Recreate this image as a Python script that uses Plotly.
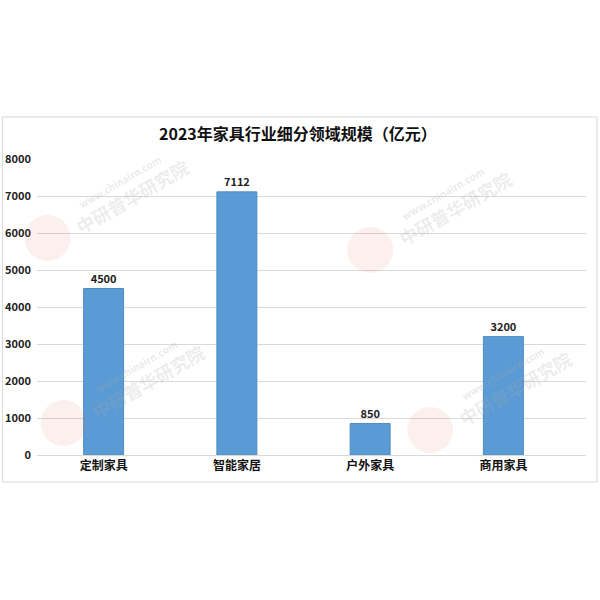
import plotly.graph_objects as go

categories = ["定制家具", "智能家居", "户外家具", "商用家具"]
values = [4500, 7112, 850, 3200]
y_ticks = [0, 1000, 2000, 3000, 4000, 5000, 6000, 7000, 8000]
title_text = "2023年家具行业细分领域规模（亿元）"

FONT = "Noto Sans CJK SC, Microsoft YaHei, sans-serif"

fig = go.Figure()
fig.add_trace(go.Bar(
    x=list(range(len(categories))),
    y=values,
    marker=dict(color="#5B9BD5", line=dict(color="#4F8CC4", width=1)),
    width=0.3,
    text=[str(v) for v in values],
    textposition="outside",
    textfont=dict(family=FONT, size=11, color="#222222", weight=700),
    cliponaxis=False,
))

W, H = 600, 600
L, R, T, B = 36.5, 14, 159, 145

def px(xp):
    return (xp - L) / (W - L - R)
def py(yp):
    return (H - B - yp) / (H - T - B)

fig.update_layout(
    width=W, height=H,
    margin=dict(l=L, r=R, t=T, b=B, pad=0, autoexpand=False),
    paper_bgcolor="white",
    plot_bgcolor="white",
    showlegend=False,
    font=dict(family=FONT, color="#222222"),
    xaxis=dict(
        range=[-0.5, 3.62],
        tickmode="array",
        tickvals=list(range(len(categories))),
        ticktext=categories,
        tickfont=dict(family=FONT, size=12, color="#111111", weight=700),
        showgrid=False,
        showline=True, linecolor="#D9D9D9", linewidth=1,
        ticks="", zeroline=False, fixedrange=True, automargin=False,
    ),
    yaxis=dict(
        range=[0, 8000],
        tickmode="array",
        tickvals=y_ticks,
        ticktext=[str(v) for v in y_ticks],
        tickfont=dict(family=FONT, size=11, color="#222222", weight=700),
        showgrid=True, gridcolor="#D9D9D9", gridwidth=1,
        zeroline=False, showline=False, ticks="",
        ticklabelstandoff=5, fixedrange=True, automargin=False,
    ),
    annotations=[
        dict(text=title_text, xref="paper", yref="paper",
             x=px(298), y=py(133),
             xanchor="center", yanchor="middle", showarrow=False,
             font=dict(family=FONT, size=16, color="#111111", weight=700)),
    ],
)

fig.add_shape(type="rect", xref="paper", yref="paper",
              x0=px(2), x1=px(597), y0=py(482), y1=py(117),
              line=dict(color="#D9D9D9", width=1), layer="below")

# faint watermarks (logo circle + rotated text)
logos = [(47, 238), (370, 250), (63, 423), (430, 430)]
for (lx, ly) in logos:
    r = 23
    fig.add_shape(type="circle", xref="paper", yref="paper",
                  x0=px(lx - r), x1=px(lx + r), y0=py(ly + r), y1=py(ly - r),
                  fillcolor="rgba(230,110,100,0.10)", line=dict(width=0), layer="above")
    fig.add_annotation(text="中研普华研究院", xref="paper", yref="paper",
                       x=px(lx + 85), y=py(ly - 42), xanchor="center", yanchor="middle",
                       showarrow=False, textangle=-30,
                       font=dict(family=FONT, size=18, color="rgba(170,170,170,0.22)", weight=700))
    fig.add_annotation(text="www.chinairn.com", xref="paper", yref="paper",
                       x=px(lx + 72), y=py(ly - 57), xanchor="center", yanchor="middle",
                       showarrow=False, textangle=-30,
                       font=dict(family=FONT, size=10, color="rgba(170,170,170,0.25)", weight=700))

fig.write_html("out.html", config={"displayModeBar": False},
               post_script="document.body.style.margin='0';document.body.style.overflow='hidden';")
